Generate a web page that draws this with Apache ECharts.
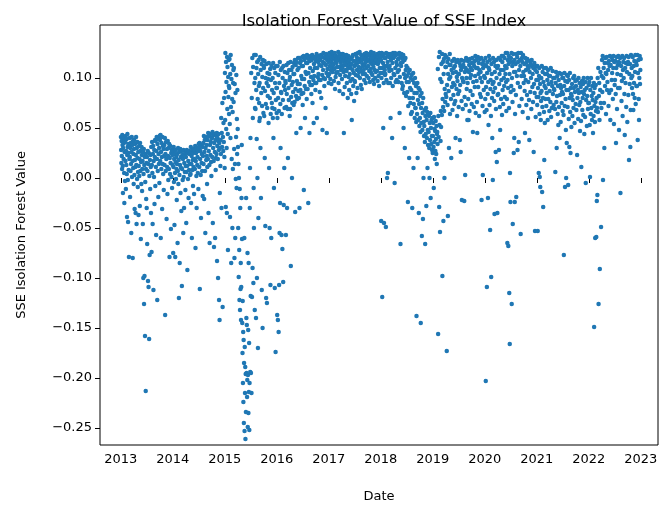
<!DOCTYPE html>
<html>
<head>
<meta charset="utf-8">
<script src="https://cdn.jsdelivr.net/npm/echarts@6/dist/echarts.min.js"></script>
<style>html,body{margin:0;padding:0;background:#fff}#c{width:670px;height:508px}</style>
</head>
<body>
<div id="c"></div>
<script>
// Isolation forest values (in thousandths), grouped by month for each year
const d2013 = [
 [41,28,15,37,22,9,43,33,12,-15,30,40,19,35,5,-25,26,38,-3],
 [36,17,42,-11,27,13,39,4,-39,23,44,31,-2,-44,34,25,8,-79,32,19],
 [40,21,-19,30,7,35,14,-55,26,41,1,33,17,-80,37,10,24,-6],
 [29,38,3,-31,18,34,11,-35,23,41,13,-46,30,-1,36,20,-9,6],
 [26,-37,12,32,2,19,-28,35,7,27,-61,16,-6,31,23,-13,9],
 [17,-46,26,-100,4,29,-126,13,-98,21,-158,-4,24,-213,9,-21,15,-30],
 [21,-66,7,27,-103,14,-109,25,-161,2,-77,18,-11,23,11,-35],
 [31,-74,13,36,5,-46,24,32,-112,17,1,28,-26,21,38,-8],
 [37,11,-57,27,41,19,-122,34,7,39,-19,24,14,30,-5,42],
 [38,17,43,-60,26,9,35,21,-31,41,14,32,4,29,-12,22],
 [33,13,40,-137,24,7,36,19,-41,29,11,-16,37,22,-2],
 [30,9,34,-79,20,4,32,15,-51,25,1,28,-10,23,13]
];
const d2014 = [
 [27,-75,11,31,-4,19,-47,24,5,-79,16,28,-1,21,9,-22,14],
 [24,-65,7,30,-6,18,-120,26,3,-85,13,29,-15,21,10,-33],
 [27,-108,9,23,-2,19,-55,28,1,-30,15,22,6,25,-12,12],
 [21,-45,6,28,12,-92,25,-1,17,-20,27,8,24,14,3],
 [26,4,31,-25,14,22,-60,28,8,18,-8,25,11,29,-16,19],
 [28,9,32,-70,17,25,2,-30,30,13,21,5,27,-11,34],
 [30,11,35,-111,19,27,3,-40,33,15,24,7,31,-18,22],
 [35,14,42,-21,26,38,7,-55,30,41,18,33,22,-6,11],
 [38,19,45,-35,27,42,13,-65,33,44,23,36,16,2,40],
 [40,21,46,-45,30,43,17,-69,35,44,26,-60,38,8,20],
 [42,24,45,-83,32,40,19,-100,37,44,28,-122,35,-142,-15,30,12],
 [38,24,60,-30,45,31,75,-129,41,27,55,36,80,21,10]
];
const d2015 = [
 [105,58,125,86,-29,116,49,96,30,-35,121,69,111,44,-72,101,81,118,92,64],
 [90,119,54,-39,104,40,123,71,-85,99,19,113,79,-50,66,9,95,108],
 [76,110,29,-80,94,14,-60,85,-1,41,103,-10,59,24,88,49],
 [31,-50,14,-99,0,-72,-122,-11,-132,-30,-111,-85,-142,-109,-20,33,-61],
 [-145,-175,-123,-205,-154,-224,-162,-245,-185,-60,-253,-169,-215,-189,-261,-196,-234,-20,-140],
 [-195,-147,-219,-202,-75,-249,-197,-152,-235,-85,-214,-165,-252,-205,-30,10,-194,40,-118],
 [-195,105,-215,80,-119,120,-90,60,111,-105,-10,-50,123,95,-132,70],
 [100,69,123,-140,88,110,39,-100,116,0,79,-170,104,-40,118,92,75,57],
 [95,60,121,30,108,-20,85,114,-112,72,101,-150,118,90,65,112],
 [110,62,117,20,87,-48,100,74,-120,114,95,-125,70,105,82,99],
 [92,55,115,10,104,-50,80,109,-107,64,98,-60,112,75,88,70],
 [100,60,115,40,85,-10,110,69,-110,95,105,-174,78,112,90,65]
];
const d2016 = [
 [90,-137,60,112,-142,80,103,-154,67,-107,95,-55,116,-25,74,30,108,86],
 [85,-57,64,110,-71,100,78,-104,112,-27,92,10,70,106,88,97],
 [95,-57,71,113,84,-30,105,69,20,115,90,78,108,98,62],
 [101,69,116,-88,81,108,93,0,75,111,96,86,104,73,115],
 [104,76,118,-34,89,113,82,45,116,97,79,108,94,120,87],
 [110,80,120,-30,94,115,88,50,117,102,84,112,99,121,73],
 [112,85,122,-12,99,118,92,60,120,106,89,115,104,79,123],
 [115,89,121,-25,105,119,96,45,117,110,93,122,101,84],
 [118,93,123,75,107,120,98,55,114,102,121,110,95,88,117],
 [120,95,124,60,110,117,101,116,104,122,98,113,86,119],
 [118,98,123,80,112,121,103,48,116,108,125,100,115,92],
 [120,99,122,70,113,124,105,45,118,109,121,102,116,95]
];
const d2017 = [
 [121,104,125,112,118,99,123,108,116,94,126,110,119,106,114,122],
 [113,124,97,120,109,125,89,117,101,122,105,115,119,111,121],
 [106,118,126,95,122,111,87,120,103,116,124,108,113,119],
 [99,121,110,124,84,117,106,45,123,113,91,120,102,115,108,118],
 [123,107,95,119,112,80,116,122,101,110,88,118,104,114,97],
 [110,119,84,114,58,121,99,108,123,92,117,105,77,112,97],
 [96,113,124,103,117,85,121,108,115,90,125,102,119,111,106],
 [116,126,100,119,110,93,123,107,89,118,114,104,122,112],
 [108,121,98,124,113,104,119,95,116,125,110,102,122,118,123],
 [124,112,100,118,107,123,96,116,121,109,126,105,120,114],
 [103,117,123,98,111,125,94,120,108,115,100,122,106,118,121],
 [118,107,124,97,114,121,102,116,92,125,110,119,105,122]
];
const d2018 = [
 [118,-43,100,125,110,-119,122,105,115,50,124,95,-45,112,120,108,103],
 [104,120,-49,125,98,112,0,123,116,5,95,124,110,121,107],
 [112,95,124,60,118,100,108,122,40,115,92,125,120,104],
 [121,103,-5,125,110,96,123,116,98,113,124,106,119],
 [96,119,108,125,65,101,122,-66,115,112,124,95,120,89],
 [116,92,123,50,104,85,118,30,100,120,108,82,112,96],
 [102,86,110,-24,72,105,96,20,80,108,90,75,100,64],
 [88,103,66,-30,98,80,105,10,74,95,85,60,100,70],
 [70,92,56,-138,85,64,95,20,78,58,90,-35,74,52,88],
 [60,82,46,-145,70,55,85,-58,75,48,65,-41,80,0,56,42],
 [52,68,36,-66,62,44,70,-28,58,40,66,10,48,33,64],
 [46,62,30,0,55,38,65,-20,50,34,58,42,28,60,25]
];
const d2019 = [
 [42,55,31,-10,61,36,49,19,47,27,57,39,24,52,14,44],
 [46,34,109,-156,62,41,121,-29,53,126,-54,99,37,67,51,114],
 [96,63,124,-98,79,116,71,-43,104,119,67,0,89,123,76,111,84],
 [111,81,121,-173,93,116,73,-38,104,119,87,30,99,113,124,64],
 [101,113,79,20,108,91,117,68,105,95,83,110,119,74],
 [93,112,77,40,106,116,89,101,62,97,118,84,104,71],
 [104,87,115,38,93,112,26,108,118,77,-22,100,111,69,97],
 [113,96,117,-23,81,106,3,110,73,120,100,89,108,58],
 [95,117,79,58,106,113,67,119,100,87,110,103,115,74],
 [108,120,83,46,96,115,71,112,117,91,102,122,65,110],
 [118,97,76,45,110,121,91,104,115,62,108,119,84,100],
 [106,81,120,-22,96,114,72,3,110,117,88,102,113,66]
];
const d2020 = [
 [100,79,120,-203,91,112,68,-109,105,116,84,-20,96,53,110,122],
 [108,73,118,-52,89,98,62,-99,114,104,80,40,94,-2,120,86],
 [96,116,77,-36,106,90,112,26,69,118,100,16,110,-35,83],
 [112,84,120,28,94,104,71,48,118,108,79,98,122,63],
 [116,88,122,74,108,100,92,120,81,112,104,125,96,67],
 [110,79,125,-65,98,118,90,-68,114,122,70,-115,104,-166,5,116,-24,86],
 [120,92,125,-126,100,112,76,-46,116,124,88,25,106,40,118,-24,64],
 [106,114,83,-19,124,102,121,28,95,116,125,36,108,72],
 [118,91,112,-56,125,102,79,120,116,66,123,106,95],
 [102,114,87,45,120,98,108,73,116,83,119,112,60],
 [96,110,78,38,106,117,86,114,100,69,118,112,91],
 [104,76,110,26,94,115,85,-53,108,61,112,98,81]
];
const d2021 = [
 [106,73,112,-53,90,98,81,5,102,110,64,1,94,-9,85,58,77],
 [100,87,112,-14,71,106,80,-29,96,110,66,18,92,55,104,79],
 [90,110,72,85,104,98,58,108,79,94,102,67,87],
 [102,76,110,61,96,70,92,107,84,100,73,89],
 [88,100,69,6,95,106,76,30,82,102,64,92,53],
 [98,71,105,40,83,93,56,90,104,75,86,100,67],
 [84,100,63,-77,92,105,72,-9,97,79,48,0,88,35,103],
 [96,71,102,-7,88,59,98,31,80,105,66,25,90,84,51],
 [82,94,62,78,100,70,90,102,55,86,97,74],
 [92,68,98,23,80,88,59,100,85,73,95,47],
 [76,91,57,11,86,97,68,80,94,63,100,84,44],
 [88,61,96,-5,78,90,52,82,100,69,75,93]
];
const d2022 = [
 [75,96,53,1,88,64,100,70,82,58,92,78,45],
 [85,62,95,-149,72,90,56,-60,76,93,67,-59,80,-23,70,-17],
 [100,66,110,-126,82,95,58,-91,88,106,75,-49,70,102],
 [118,86,122,-2,100,110,75,30,115,92,120,105,64],
 [104,121,88,96,115,108,72,117,85,112,122,58],
 [113,88,121,98,105,118,79,110,122,54,116,93],
 [98,117,84,35,110,121,69,104,113,90,122,116,48],
 [115,90,120,-15,103,112,77,97,122,62,108,116],
 [100,120,84,43,110,95,115,71,122,106,56,114],
 [116,83,121,18,104,94,114,31,68,123,100,110,90],
 [102,121,84,68,112,95,117,80,106,123,74,116,92],
 [113,92,123,38,105,118,79,58,100,122,94,108,119]
];
const yearTicks = [2013,2014,2015,2016,2017,2018,2019,2020,2021,2022,2023];
const valueTicks = [-0.25,-0.20,-0.15,-0.10,-0.05,0.00,0.05,0.10];

const byYear = [[2013,d2013],[2014,d2014],[2015,d2015],[2016,d2016],[2017,d2017],
                [2018,d2018],[2019,d2019],[2020,d2020],[2021,d2021],[2022,d2022]];
const points = [];
byYear.forEach(([yr, months]) => {
  months.forEach((vals, m) => {
    vals.forEach((v, i) => {
      points.push([yr + (m + (i + 0.5) / vals.length) / 12, v / 1000]);
    });
  });
});

const FONT = 'DejaVu Sans';
const chart = echarts.init(document.getElementById('c'), null, {renderer: 'canvas'});
chart.setOption({
  animation: false,
  backgroundColor: '#ffffff',
  title: {
    text: 'Isolation Forest Value of SSE Index',
    left: 379, top: 8, textAlign: 'center',
    textStyle: {fontFamily: FONT, fontSize: 16.5, fontWeight: 'normal', color: '#000'}
  },
  grid: {left: 100, right: 12, top: 25, bottom: 63, show: true,
         borderColor: '#000', borderWidth: 1, backgroundColor: 'transparent'},
  xAxis: {
    type: 'value', min: 2012.6, max: 2023.33,
    name: 'Date', nameLocation: 'middle', nameGap: 45,
    nameTextStyle: {fontFamily: FONT, fontSize: 13, color: '#000'},
    axisLine: {show: false},
    splitLine: {show: false},
    axisTick: {show: true, length: 5, customValues: yearTicks, lineStyle: {color: '#000'}},
    axisLabel: {customValues: yearTicks, margin: 8, fontFamily: FONT, fontSize: 13, color: '#000',
                formatter: v => String(Math.round(v))}
  },
  yAxis: {
    type: 'value', min: -0.267, max: 0.153,
    name: 'SSE Isolation Forest Value', nameLocation: 'middle', nameGap: 72,
    nameTextStyle: {fontFamily: FONT, fontSize: 13, color: '#000'},
    axisLine: {show: false},
    splitLine: {show: false},
    axisTick: {show: true, length: 5, customValues: valueTicks, lineStyle: {color: '#000'}},
    axisLabel: {customValues: valueTicks, margin: 8, fontFamily: FONT, fontSize: 13, color: '#000',
                formatter: v => (v < -1e-9 ? '\u2212' : '') + Math.abs(v).toFixed(2)}
  },
  series: [{
    type: 'scatter', data: points, symbolSize: 4.5,
    itemStyle: {color: '#1f77b4', opacity: 1}
  }]
});
</script>
</body>
</html>
